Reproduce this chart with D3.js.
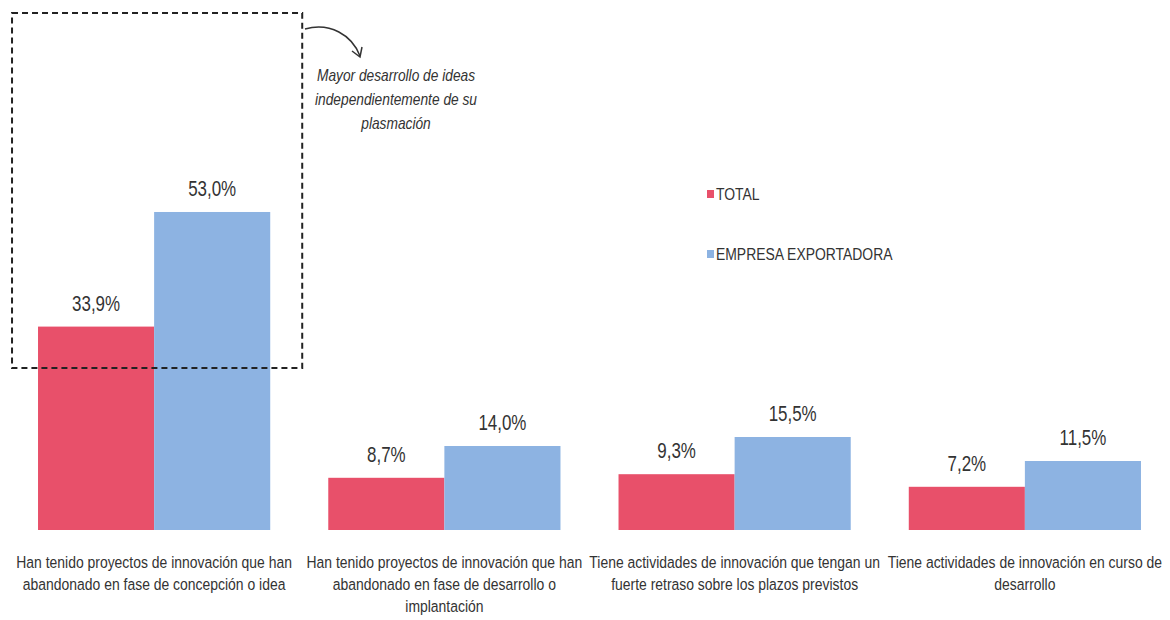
<!DOCTYPE html>
<html>
<head>
<meta charset="utf-8">
<script src="https://cdnjs.cloudflare.com/ajax/libs/d3/7.8.5/d3.min.js"></script>
<style>
	body { margin: 0; background: #fff; }
	svg text { font-family: 'Liberation Sans Narrow', 'Arial Narrow', 'Liberation Sans', sans-serif; fill: #333; }
</style>
</head>
<body>
<div id="vis"></div>
<script>
var categories = [
	['Han tenido proyectos de innovación que han', 'abandonado en fase de concepción o idea'],
	['Han tenido proyectos de innovación que han', 'abandonado en fase de desarrollo o', 'implantación'],
	['Tiene actividades de innovación que tengan un', 'fuerte retraso sobre los plazos previstos'],
	['Tiene actividades de innovación en curso de', 'desarrollo']
];
var seriesNames = ['TOTAL', 'EMPRESA EXPORTADORA'];
var total = [33.9, 8.7, 9.3, 7.2];
var exportadora = [53.0, 14.0, 15.5, 11.5];
var note = ['Mayor desarrollo de ideas', 'independientemente de su', 'plasmación'];

var width = 1170,
	height = 620,
	baseline = 530;

var colors = ['#E8506A', '#8DB3E2'];

var svg = d3.select('#vis')
	.append('svg')
	.attr('width', width)
	.attr('height', height);

// narrow font is missing, so squeeze text horizontally
var squeeze = function(sel, px, py, s) {
	sel.attr('transform', function(d, i) {
		return 'translate(' + px(d, i) + ',' + py(d, i) + ') scale(' + s + ',1)';
	});
};

var x = d3.scaleBand()
	.domain(d3.range(categories.length))
	.range([9, 1170])
	.paddingInner(0.2)
	.paddingOuter(0.1);

var x1 = d3.scaleBand()
	.domain(seriesNames)
	.range([0, x.bandwidth()]);

var y = d3.scaleLinear()
	.domain([0, 88.33])
	.range([baseline, 0]);

var fmt = function(v) { return d3.format('.1f')(v).replace('.', ',') + '%'; };

var data = categories.map(function(c, i) {
	return { i: i, values: [total[i], exportadora[i]] };
});

var groups = svg.append('g')
	.selectAll('g')
	.data(data)
	.enter().append('g')
	.attr('transform', function(d) { return 'translate(' + x(d.i) + ',0)'; });

groups.selectAll('rect')
	.data(function(d) { return d.values; })
	.enter().append('rect')
	.attr('x', function(d, j) { return x1(seriesNames[j]); })
	.attr('y', function(d) { return y(d); })
	.attr('width', x1.bandwidth())
	.attr('height', function(d) { return baseline - y(d); })
	.attr('fill', function(d, j) { return colors[j]; });

var vals = groups.selectAll('text.val')
	.data(function(d) { return d.values; })
	.enter().append('text')
	.attr('class', 'val')
	.attr('text-anchor', 'middle')
	.attr('font-size', 22)
	.text(fmt);
squeeze(vals,
	function(d, j) { return x1(seriesNames[j]) + x1.bandwidth() / 2; },
	function(d) { return y(d) - 16; }, 0.77);

// category labels
var labels = svg.append('g')
	.selectAll('text')
	.data(data)
	.enter().append('text')
	.attr('text-anchor', 'middle')
	.attr('font-size', 17);
squeeze(labels,
	function(d) { return x(d.i) + x.bandwidth() / 2; },
	function() { return 568; }, 0.82);

labels.selectAll('tspan')
	.data(function(d) { return categories[d.i]; })
	.enter().append('tspan')
	.attr('x', 0)
	.attr('dy', function(d, k) { return k === 0 ? 0 : 22; })
	.text(function(d) { return d; });

// legend
var legend = svg.append('g')
	.selectAll('g')
	.data(seriesNames)
	.enter().append('g')
	.attr('transform', function(d, i) { return 'translate(707,' + (194 + i * 60) + ')'; });

legend.append('rect')
	.attr('x', 0)
	.attr('y', -4)
	.attr('width', 7)
	.attr('height', 8)
	.attr('fill', function(d, i) { return colors[i]; });

var legText = legend.append('text')
	.attr('dy', '0.36em')
	.attr('font-size', 16)
	.text(function(d) { return d; });
squeeze(legText, function() { return 9; }, function() { return 0; }, 0.87);

// dashed annotation box around first group
var boxLeft = x(0) - 26,
	boxRight = x(0) + x.bandwidth() + 32;
svg.append('rect')
	.attr('x', boxLeft)
	.attr('y', 13)
	.attr('width', boxRight - boxLeft)
	.attr('height', y(27) - 13)
	.attr('fill', 'none')
	.attr('stroke', '#222')
	.attr('stroke-width', 2)
	.attr('stroke-dasharray', '6,4');

// curved arrow
svg.append('path')
	.attr('d', 'M305,29 C330,22 352,35 360,56')
	.attr('fill', 'none')
	.attr('stroke', '#333')
	.attr('stroke-width', 1.5);
svg.append('path')
	.attr('d', 'M352,51 L360,57 L362,47')
	.attr('fill', 'none')
	.attr('stroke', '#333')
	.attr('stroke-width', 1.5);

var noteText = svg.append('text')
	.attr('text-anchor', 'middle')
	.attr('font-size', 16)
	.attr('font-style', 'italic')
	.datum(0);
squeeze(noteText, function() { return 396; }, function() { return 81; }, 0.86);

noteText.selectAll('tspan')
	.data(note)
	.enter().append('tspan')
	.attr('x', 0)
	.attr('dy', function(d, k) { return k === 0 ? 0 : 24; })
	.text(function(d) { return d; });
</script>
</body>
</html>
